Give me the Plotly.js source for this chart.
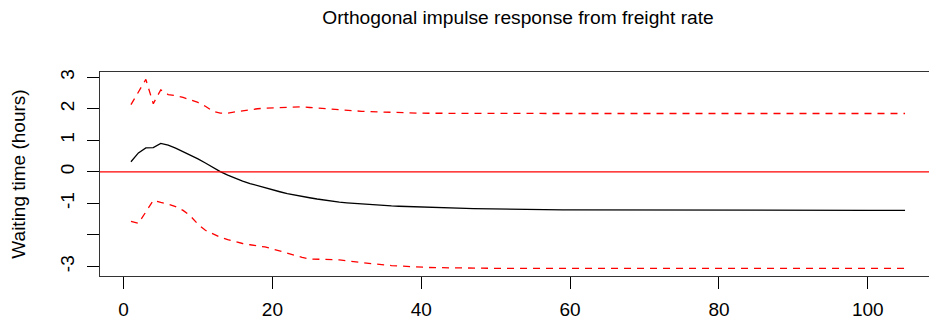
<!DOCTYPE html>
<html>
<head>
<meta charset="utf-8">
<script src="https://cdn.plot.ly/plotly-3.0.1.min.js"></script>
<style>
html, body { margin: 0; padding: 0; overflow: hidden; background: #fff; }
#plot { width: 950px; height: 329px; }
</style>
</head>
<body>
<div id="plot"></div>
<script>
// Horizon steps 1..105
const steps = Array.from({length: 105}, (_, i) => i + 1);

// Orthogonal impulse response (point estimate)
const response = [
  0.32, 0.60, 0.76, 0.77, 0.90, 0.85, 0.75, 0.64, 0.54, 0.41,
  0.28, 0.14, 0.01, -0.10, -0.20, -0.29, -0.37, -0.44, -0.51, -0.57,
  -0.63, -0.69, -0.74, -0.78, -0.82, -0.86, -0.90, -0.93, -0.96, -0.98,
  -1.00, -1.02, -1.04, -1.055, -1.07, -1.08, -1.09, -1.10, -1.11, -1.12,
  -1.13, -1.14, -1.145, -1.15, -1.155, -1.16, -1.165, -1.17, -1.175, -1.18,
  -1.183, -1.186, -1.189, -1.192, -1.195, -1.197, -1.199, -1.201, -1.203, -1.205,
  -1.206, -1.207, -1.208, -1.209, -1.21, -1.211, -1.212, -1.213, -1.214, -1.215,
  -1.215, -1.216, -1.216, -1.217, -1.217, -1.217, -1.218, -1.218, -1.218, -1.218,
  -1.219, -1.219, -1.219, -1.219, -1.219, -1.22, -1.22, -1.22, -1.22, -1.22,
  -1.22, -1.22, -1.22, -1.22, -1.22, -1.22, -1.22, -1.22, -1.22, -1.22,
  -1.22, -1.22, -1.22, -1.22, -1.22
];

// Upper confidence band
const upper = [
  2.13, 2.53, 2.93, 2.16, 2.60, 2.45, 2.42, 2.36, 2.29, 2.20,
  2.08, 1.92, 1.86, 1.86, 1.90, 1.94, 1.97, 2.00, 2.02, 2.03,
  2.04, 2.05, 2.06, 2.06, 2.04, 2.02, 2.00, 1.98, 1.96, 1.94,
  1.93, 1.92, 1.91, 1.90, 1.89, 1.88, 1.875, 1.87, 1.865, 1.86,
  1.858, 1.856, 1.854, 1.852, 1.85, 1.85, 1.85, 1.85, 1.85, 1.85,
  1.85, 1.85, 1.85, 1.85, 1.85, 1.85, 1.85, 1.85, 1.85, 1.85,
  1.85, 1.85, 1.85, 1.85, 1.85, 1.85, 1.85, 1.85, 1.85, 1.85,
  1.85, 1.85, 1.85, 1.85, 1.85, 1.85, 1.85, 1.85, 1.85, 1.85,
  1.85, 1.85, 1.85, 1.85, 1.85, 1.85, 1.85, 1.85, 1.85, 1.85,
  1.85, 1.85, 1.85, 1.85, 1.85, 1.85, 1.85, 1.85, 1.85, 1.85,
  1.85, 1.85, 1.85, 1.85, 1.85
];

// Lower confidence band
const lower = [
  -1.57, -1.63, -1.27, -0.90, -0.97, -1.02, -1.10, -1.22, -1.40, -1.66,
  -1.85, -1.97, -2.07, -2.15, -2.22, -2.27, -2.31, -2.34, -2.38, -2.44,
  -2.51, -2.57, -2.64, -2.71, -2.76, -2.77, -2.77, -2.77, -2.79, -2.82,
  -2.85, -2.88, -2.91, -2.93, -2.95, -2.97, -2.985, -3.00, -3.01, -3.02,
  -3.03, -3.035, -3.04, -3.045, -3.05, -3.052, -3.054, -3.056, -3.058, -3.06,
  -3.06, -3.06, -3.06, -3.06, -3.06, -3.06, -3.06, -3.06, -3.06, -3.06,
  -3.06, -3.06, -3.06, -3.06, -3.06, -3.06, -3.06, -3.06, -3.06, -3.06,
  -3.06, -3.06, -3.06, -3.06, -3.06, -3.06, -3.06, -3.06, -3.06, -3.06,
  -3.06, -3.06, -3.06, -3.06, -3.06, -3.06, -3.06, -3.06, -3.06, -3.06,
  -3.06, -3.06, -3.06, -3.06, -3.06, -3.06, -3.06, -3.06, -3.06, -3.06,
  -3.06, -3.06, -3.06, -3.06, -3.06
];

const xTicks = [0, 20, 40, 60, 80, 100];
const yTicks = [-3, -2, -1, 0, 1, 2, 3];
const yTickText = ["-3", "", "-1", "0", "1", "2", "3"];
const zeroLevel = 0;

const FONT = "Liberation Sans, Arial, Helvetica, sans-serif";
const FS = 19;

const traces = [
  { x: steps, y: response, type: "scatter", mode: "lines",
    line: { color: "#000000", width: 1.3 }, showlegend: false },
  { x: steps, y: upper, type: "scatter", mode: "lines",
    line: { color: "#ff0000", width: 1.3, dash: "7px,6px" }, showlegend: false },
  { x: steps, y: lower, type: "scatter", mode: "lines",
    line: { color: "#ff0000", width: 1.3, dash: "7px,6px" }, showlegend: false }
];

const layout = {
  width: 950, height: 329,
  margin: { l: 100, r: 14, t: 72, b: 53 },
  paper_bgcolor: "#ffffff", plot_bgcolor: "#ffffff",
  font: { family: FONT, size: FS, color: "#000" },
  title: {
    text: "Orthogonal impulse response from freight rate",
    font: { family: FONT, size: 19.2, color: "#000" },
    x: 0.5, xref: "paper", xanchor: "center",
    y: 1 - 17 / 329, yref: "container", yanchor: "middle"
  },
  xaxis: {
    range: [-3.16, 109.16],
    tickvals: xTicks, ticktext: xTicks.map(String),
    ticks: "outside", ticklen: 12, tickwidth: 1, tickcolor: "#000",
    showgrid: false, zeroline: false,
    showline: true, mirror: true, linecolor: "#333", linewidth: 1.3,
    tickfont: { family: FONT, size: FS, color: "#000" },
    ticklabelstandoff: 4
  },
  yaxis: {
    range: [-3.30, 3.165],
    tickvals: yTicks, ticktext: yTickText, tickangle: -90,
    ticks: "outside", ticklen: 12, tickwidth: 1, tickcolor: "#000",
    showgrid: false, zeroline: false,
    showline: true, mirror: true, linecolor: "#333", linewidth: 1.3,
    tickfont: { family: FONT, size: FS, color: "#000" },
    ticklabelstandoff: 5,
    title: { text: "Waiting time (hours)", font: { family: FONT, size: FS, color: "#000" }, standoff: 26 }
  },
  shapes: [
    { type: "line", xref: "paper", x0: 0, x1: 1, yref: "y", y0: zeroLevel, y1: zeroLevel,
      line: { color: "#ff0000", width: 1.2 }, layer: "above" }
  ],
  hovermode: false
};

Plotly.newPlot("plot", traces, layout, { displayModeBar: false, staticPlot: true });
</script>
</body>
</html>
